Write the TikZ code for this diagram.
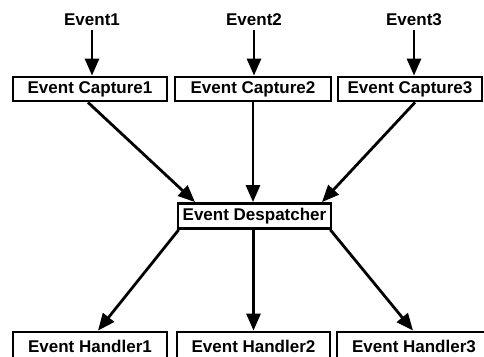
\documentclass[tikz,border=0pt]{standalone}
\usepackage{fontspec}
\setmainfont{Liberation Sans}
\usetikzlibrary{arrows.meta,calc}

\tikzset{
	evtext/.style={font=\bfseries\fontsize{17}{20}\selectfont, inner sep=0pt},
	evbox/.style={draw, line width=2.8pt, fill=white, minimum height=24pt, inner sep=0pt,
		font=\bfseries\fontsize{17}{20}\selectfont},
	flow/.style={line width=2.8pt, -{Triangle[length=17pt,width=14pt]}}
}

\begin{document}
\begin{tikzpicture}[x=1pt,y=1pt]
			%%%%% START %%%%%
			\useasboundingbox (0,0) rectangle (484,356);
			
			% incoming events
			\node[evtext] (ev1) at (92, 336) {Event1};
			\node[evtext] (ev2) at (254, 336) {Event2};
			\node[evtext] (ev3) at (414, 336) {Event3};
			
			% capture stage
			\node[evbox, minimum width=154pt] (cap1) at (90, 267) {Event Capture1};
			\node[evbox, minimum width=156pt] (cap2) at (253, 267) {Event Capture2};
			\node[evbox, minimum width=144pt] (cap3) at (410, 267) {Event Capture3};
			
			% dispatcher
			\node[evbox, minimum width=153pt, minimum height=25pt] (desp) at (254.5, 140) {Event Despatcher};
			
			% handlers, cut by the lower edge
			\node[evbox, minimum width=154pt, minimum height=28pt] (hand1) at (90, 10) {Event Handler1};
			\node[evbox, minimum width=153pt, minimum height=28pt] (hand2) at (253.5, 10) {Event Handler2};
			\node[evbox, minimum width=154pt, minimum height=28pt] (hand3) at (414, 10) {Event Handler3};
			
			\draw[flow] ([yshift=-4pt]ev1.south) -- (ev1.south |- cap1.north);
			\draw[flow] ([yshift=-4pt]ev2.south) -- (ev2.south |- cap2.north);
			\draw[flow] ([yshift=-4pt]ev3.south) -- (ev3.south |- cap3.north);
			
			\draw[flow] ([xshift=-2pt]cap1.south) -- ([xshift=-59.5pt]desp.north);
			\draw[flow] (cap2.south) -- (cap2.south |- desp.north);
			\draw[flow] ([xshift=5pt]cap3.south) -- ([xshift=67.5pt]desp.north);
			
			\draw[flow] ([xshift=2pt]desp.south west) -- ([xshift=8pt]hand1.north);
			\draw[flow] (desp.south -| hand2.north) -- (hand2.north);
			\draw[flow] ([xshift=-2pt]desp.south east) -- ([xshift=-1pt]hand3.north);
			
			%%%%% END %%%%%
		\end{tikzpicture}
\end{document}
